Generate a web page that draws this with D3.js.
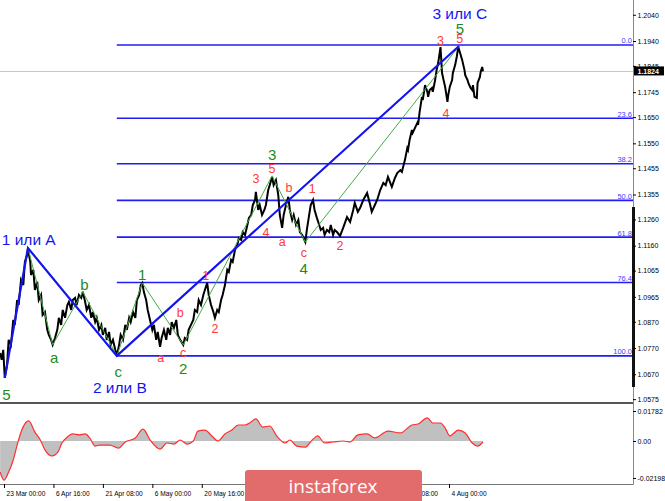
<!DOCTYPE html>
<html><head><meta charset="utf-8">
<script src="https://cdn.jsdelivr.net/npm/d3@7"></script>
<style>body{margin:0;background:#fff}svg{display:block}</style>
</head><body>
<svg id="c" width="665" height="501"></svg>
<script>
// ---------- DATA ----------
const priceBars = [-5,-3,-1,1,4,6,9,12,14,17,19,22,25,27,30,31,34,35,38,40,43,45,48,50,53,56,58,61,63,66,69,71,74,76,79,82,84,87,89,92,94,97,100,102,105,107,110,113,115,118,120,123,126,128,131,133,136,138,141,144,146,149,151,154,157,159,162,164,167,170,172,175,177,179,181,184,186,189,192,194,197,199,202,204,207,210,212,215,217,220,223,225,228,232,234,237,239,242,245,247,250,252,255,258,260,263,265,268,271,273,276,278,281,283,286,289,291,294,296,299,302,304,307,309,312,315,317,320,322,325,326,329,331,334,337,339,342,344,347,349,352,355,357,360,362,365,368,370,373,375,378,381,383,386,390,392,395,397,400,402,405,408,410,413,415,418,421,423,426,428,431,435,439,444,448,452,454,458,461,465,470,474,476,480,483,487,491,494,497,500,502,506,509,513,515,519,522,523,525,528,529,532,535,536,538,541,542,545,548,549,551,554,555,558,560,562,565,566,567,569,571,574,575,577,580,581,584,586,588,590,593,596,597,600,601,604,606,607,609,612,613,616,617,619,620];
const priceValues = [1.0751,1.0725,1.0763,1.0656,1.0706,1.0801,1.0782,1.0877,1.0858,1.0953,1.0934,1.1029,1.1010,1.1098,1.1125,1.1148,1.1098,1.1048,1.1068,1.0991,1.1022,1.0953,1.0972,1.0896,1.0907,1.0839,1.0820,1.0801,1.0782,1.0808,1.0839,1.0885,1.0858,1.0915,1.0885,1.0934,1.0946,1.0915,1.0953,1.0961,1.0934,1.0972,1.0961,1.0984,1.0946,1.0915,1.0934,1.0885,1.0907,1.0869,1.0885,1.0839,1.0858,1.0820,1.0847,1.0801,1.0831,1.0782,1.0801,1.0763,1.0740,1.0782,1.0820,1.0801,1.0858,1.0839,1.0885,1.0869,1.0907,1.0885,1.0953,1.0972,1.1010,1.1018,1.0984,1.0953,1.0915,1.0877,1.0839,1.0858,1.0801,1.0831,1.0774,1.0808,1.0839,1.0801,1.0847,1.0820,1.0869,1.0847,1.0877,1.0820,1.0801,1.0782,1.0808,1.0801,1.0839,1.0858,1.0877,1.0915,1.0907,1.0953,1.0934,1.0972,1.0991,1.1018,1.0972,1.0934,1.0907,1.0885,1.0915,1.0907,1.0953,1.0972,1.1010,1.1068,1.1060,1.1106,1.1098,1.1144,1.1163,1.1189,1.1182,1.1212,1.1201,1.1239,1.1266,1.1277,1.1315,1.1334,1.1365,1.1296,1.1315,1.1277,1.1296,1.1315,1.1372,1.1391,1.1422,1.1391,1.1410,1.1353,1.1277,1.1228,1.1277,1.1315,1.1346,1.1296,1.1258,1.1277,1.1239,1.1258,1.1212,1.1201,1.1174,1.1220,1.1277,1.1315,1.1334,1.1296,1.1266,1.1239,1.1220,1.1228,1.1201,1.1220,1.1212,1.1239,1.1201,1.1220,1.1212,1.1197,1.1228,1.1269,1.1250,1.1296,1.1323,1.1289,1.1304,1.1334,1.1361,1.1315,1.1289,1.1315,1.1334,1.1372,1.1399,1.1391,1.1422,1.1399,1.1384,1.1418,1.1437,1.1448,1.1441,1.1487,1.1532,1.1525,1.1563,1.1601,1.1590,1.1609,1.1628,1.1620,1.1670,1.1727,1.1715,1.1772,1.1746,1.1727,1.1753,1.1761,1.1746,1.1791,1.1830,1.1856,1.1917,1.1868,1.1818,1.1791,1.1765,1.1708,1.1734,1.1765,1.1791,1.1818,1.1849,1.1879,1.1917,1.1898,1.1868,1.1830,1.1810,1.1791,1.1780,1.1761,1.1753,1.1772,1.1727,1.1723,1.1780,1.1803,1.1822,1.1841,1.1824];
const lastPrice = 1.1824;

const priceTicks = [1.2040,1.1940,1.1845,1.1745,1.1650,1.1550,1.1455,1.1355,1.1260,1.1160,1.1065,1.0965,1.0870,1.0770,1.0670,1.0575];
const timeTickBars = [0,64,128,192,256,320,384,448,512,576];
const timeTickLabels = ["23 Mar 00:00","6 Apr 16:00","21 Apr 08:00","6 May 00:00","20 May 16:00","4 Jun 08:00","19 Jun 00:00","3 Jul 16:00","20 Jul 08:00","4 Aug 00:00"];

const fibLevels = [0,23.6,38.2,50,61.8,76.4,100];
const fibLabels = ["0.0","23.6","38.2","50.0","61.8","76.4","100.0"];
const fibHigh = 1.1925, fibLow = 1.0740, fibStartBar = 146;

const blueWaveBars = [1,31,146,589];
const blueWavePrices = [1.0656,1.1151,1.0740,1.1921];
const greenWaveABars = [31,63,102,146];
const greenWaveAPrices = [1.1151,1.0782,1.0984,1.0740];
const greenWaveBBars = [146,179,232,347,390,589];
const greenWaveBPrices = [1.0740,1.1018,1.0782,1.1426,1.1174,1.1921];

const blueLabelTexts = ["1 или A","2 или B","3 или C"];
const blueLabelBars = [32,150,590];
const blueLabelPrices = [1.1163,1.0599,1.2025];
const greenLabelTexts = ["5","a","b","c","1","2","3","4","5"];
const greenLabelBars = [3,65,104,148,179,232,347,388,590];
const greenLabelPrices = [1.0572,1.0713,1.0991,1.0660,1.1029,1.0671,1.1487,1.1052,1.1968];
const redLabelTexts = ["a","b","c","1","2","3","4","5","a","b","c","1","2","3","4","5"];
const redLabelBars = [203,228,232,261,273,326,339,347,360,369,388,399,435,565,572,590];
const redLabelPrices = [1.0717,1.0888,1.0736,1.1029,1.0828,1.1399,1.1193,1.1437,1.1159,1.1365,1.1117,1.1361,1.1144,1.1925,1.1647,1.1932];

const osmaBars = [-5,0,6,12,17,23,32,40,47,53,62,70,75,82,89,98,105,111,118,124,137,148,157,170,180,189,202,211,220,228,237,245,251,260,269,277,286,295,303,312,318,326,335,344,353,364,370,379,390,399,406,415,426,439,448,458,470,480,497,513,528,536,548,555,565,571,577,588,597,606,613,620];
const osmaValues = [-0.0184,-0.0232,-0.0184,-0.0113,-0.0024,0.0065,0.0119,0.0053,0.0006,-0.0053,-0.0089,-0.0065,-0.0012,0.0024,0.0042,0.0036,0.0042,0.0018,-0.0030,-0.0024,-0.0024,-0.0042,-0.0006,0.0018,0.0071,0.0006,-0.0048,-0.0012,-0.0018,0.0006,-0.0018,0.0000,0.0059,0.0065,0.0030,0.0000,0.0042,0.0065,0.0095,0.0095,0.0107,0.0131,0.0083,0.0089,0.0030,-0.0012,0.0006,-0.0030,-0.0036,0.0006,0.0030,-0.0012,-0.0006,0.0000,-0.0006,0.0036,0.0042,0.0018,0.0059,0.0048,0.0095,0.0101,0.0137,0.0107,0.0107,0.0077,0.0030,0.0065,0.0048,-0.0012,-0.0030,-0.0006];
const osmaTicks = [0.01782,0,-0.02198];
const osmaTickLabels = ["0.01782","0.00","-0.02198"];

// ---------- LAYOUT ----------
const W = 665, H = 501;
const plotR = 633, mainBottom = 403, indTop = 404, indBottom = 484;
const svg = d3.select("#c");
const FONT = "'Liberation Sans', Arial, sans-serif";
const BLUE = "#1414ee", GREEN_T = "#1c8c1c", GREEN_L = "#45aa45", RED = "#ff3838";

const x = d3.scaleLinear().domain([0, 576]).range([4, 449]);
const yP = d3.scaleLinear().domain([1.0770, 1.1940]).range([348, 41]);
const yO = d3.scaleLinear().domain([-0.02198, 0.01782]).range([478, 411]);

svg.append("rect").attr("width", W).attr("height", H).attr("fill", "#fff");

const defs = svg.append("defs");
defs.append("clipPath").attr("id", "cm").append("rect").attr("x", 0).attr("y", 0).attr("width", plotR).attr("height", mainBottom);
defs.append("clipPath").attr("id", "ci").append("rect").attr("x", 0).attr("y", indTop).attr("width", plotR).attr("height", indBottom - indTop);

const main = svg.append("g").attr("clip-path", "url(#cm)");

// current price line
main.append("line").attr("x1", 0).attr("x2", plotR)
  .attr("y1", Math.round(yP(lastPrice)) + 0.5).attr("y2", Math.round(yP(lastPrice)) + 0.5)
  .attr("stroke", "#c8c8c8").attr("stroke-width", 1);

// fibonacci levels
fibLevels.forEach((lv, i) => {
  const p = fibHigh - lv / 100 * (fibHigh - fibLow);
  const yy = yP(p);
  main.append("line").attr("x1", x(fibStartBar)).attr("x2", plotR).attr("y1", yy).attr("y2", yy)
    .attr("stroke", "#1f1ff5").attr("stroke-width", 1.6);
  main.append("text").attr("x", plotR - 1).attr("y", yy - 1.5).attr("text-anchor", "end")
    .attr("font-family", FONT).attr("font-size", 7.5).attr("fill", "#4040ff").text(fibLabels[i]);
});

// price series
const pricePts = priceBars.map((b, i) => [b, priceValues[i]]);
main.append("path").datum(pricePts)
  .attr("d", d3.line().x(d => x(d[0])).y(d => yP(d[1])))
  .attr("fill", "none").attr("stroke", "#000").attr("stroke-width", 2).attr("stroke-linejoin", "miter");

// green sub-wave lines
[[greenWaveABars, greenWaveAPrices], [greenWaveBBars, greenWaveBPrices]].forEach(([bs, ps]) => {
  main.append("path").datum(bs.map((b, i) => [b, ps[i]]))
    .attr("d", d3.line().x(d => x(d[0])).y(d => yP(d[1])))
    .attr("fill", "none").attr("stroke", GREEN_L).attr("stroke-width", 1);
});

// blue wave line
main.append("path").datum(blueWaveBars.map((b, i) => [b, blueWavePrices[i]]))
  .attr("d", d3.line().x(d => x(d[0])).y(d => yP(d[1])))
  .attr("fill", "none").attr("stroke", BLUE).attr("stroke-width", 2.2);

// labels
function labels(texts, bars, prices, color, size) {
  main.selectAll(null).data(texts).enter().append("text")
    .attr("x", (d, i) => x(bars[i])).attr("y", (d, i) => yP(prices[i]))
    .attr("text-anchor", "middle").attr("font-family", FONT).attr("font-size", size)
    .attr("fill", color).text(d => d);
}
labels(redLabelTexts, redLabelBars, redLabelPrices, RED, 12.5);
labels(greenLabelTexts, greenLabelBars, greenLabelPrices, GREEN_T, 15);
labels(blueLabelTexts, blueLabelBars, blueLabelPrices, BLUE, 15.5);

// ---------- INDICATOR ----------
const ind = svg.append("g").attr("clip-path", "url(#ci)");
const osmaPts = osmaBars.map((b, i) => [b, osmaValues[i]]);
ind.append("path").datum(osmaPts)
  .attr("d", d3.area().x(d => x(d[0])).y0(yO(0)).y1(d => yO(d[1])).curve(d3.curveMonotoneX))
  .attr("fill", "#c0c0c0");
ind.append("path").datum(osmaPts)
  .attr("d", d3.line().x(d => x(d[0])).y(d => yO(d[1])).curve(d3.curveMonotoneX))
  .attr("fill", "none").attr("stroke", "#ff2e2e").attr("stroke-width", 1.2);

// ---------- FRAMES ----------
svg.append("line").attr("x1", 0).attr("x2", plotR).attr("y1", 403).attr("y2", 403)
  .attr("stroke", "#555").attr("stroke-width", 2);
svg.append("line").attr("x1", 0).attr("x2", plotR + 0.5).attr("y1", indBottom + 0.5).attr("y2", indBottom + 0.5)
  .attr("stroke", "#777").attr("stroke-width", 1);
svg.append("line").attr("x1", plotR + 0.5).attr("x2", plotR + 0.5).attr("y1", 0).attr("y2", indBottom + 0.5)
  .attr("stroke", "#888").attr("stroke-width", 1);
svg.append("rect").attr("x", plotR - 1).attr("y", 207).attr("width", 3).attr("height", 180).attr("fill", "#111");

// price axis
const pAxis = svg.append("g").attr("transform", `translate(${plotR},0)`)
  .call(d3.axisRight(yP).tickValues(priceTicks).tickFormat(d3.format(".4f")).tickSize(3).tickPadding(1.5));
pAxis.select(".domain").remove();
pAxis.selectAll("text").attr("font-family", FONT).attr("font-size", 7).attr("fill", "#000");
pAxis.selectAll("line").attr("stroke", "#000");

// current price box
const yl = yP(lastPrice);
svg.append("rect").attr("x", plotR + 1).attr("y", yl - 5).attr("width", 30).attr("height", 9).attr("fill", "#000");
svg.append("text").attr("x", plotR + 4.5).attr("y", yl + 2.5).attr("font-family", FONT).attr("font-size", 7)
  .attr("font-weight", "bold").attr("fill", "#fff").text(d3.format(".4f")(lastPrice));

// indicator axis
const oAxis = svg.append("g").attr("transform", `translate(${plotR},0)`)
  .call(d3.axisRight(yO).tickValues(osmaTicks).tickFormat((d, i) => osmaTickLabels[i]).tickSize(3).tickPadding(1.5));
oAxis.select(".domain").remove();
oAxis.selectAll("text").attr("font-family", FONT).attr("font-size", 7).attr("fill", "#000");
oAxis.selectAll("line").attr("stroke", "#000");

// time axis
const tAxis = svg.append("g").attr("transform", `translate(0,${indBottom})`)
  .call(d3.axisBottom(x).tickValues(timeTickBars).tickFormat((d, i) => timeTickLabels[i]).tickSize(4).tickPadding(3));
tAxis.select(".domain").remove();
tAxis.selectAll("line").attr("stroke", "#000");
tAxis.selectAll("text").attr("font-family", FONT).attr("font-size", 6.6).attr("fill", "#000")
  .attr("text-anchor", "start").attr("dx", 2);

// ---------- WATERMARK ----------
svg.append("rect").attr("x", 245).attr("y", 470).attr("width", 177).attr("height", 40).attr("rx", 3)
  .attr("fill", "#e26b6b");
svg.append("text").attr("x", 333).attr("y", 493).attr("text-anchor", "middle")
  .attr("font-family", "'Open Sans', sans-serif").attr("font-size", 19).attr("fill", "#fff").text("instaforex");
</script>
</body></html>
